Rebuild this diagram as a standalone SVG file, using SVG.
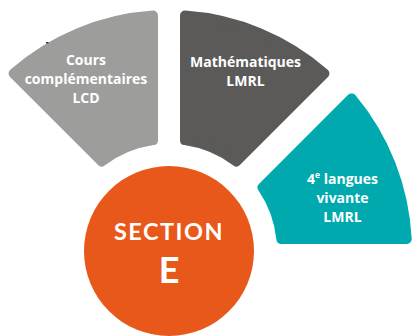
<svg xmlns="http://www.w3.org/2000/svg" width="414" height="336" viewBox="0 0 414 336">
<style>
.seg{stroke-width:10;stroke-linejoin:round}
.lbl{font-family:Lato,"Open Sans","DejaVu Sans",sans-serif;font-weight:700;fill:#ffffff;text-anchor:middle}
.t15{font-family:"Open Sans",Lato,"DejaVu Sans",sans-serif;font-size:14px}
</style>
<rect width="414" height="336" fill="#ffffff"/>
<g id="node-cours">
<path class="seg" fill="#9d9d9c" stroke="#9d9d9c" d="M153 15.54 A236 236 0 0 0 13.55 73.45 L101.63 161.53 A112 112 0 0 1 153 140.15 Z"/>
<rect x="46" y="42" width="2.5" height="1.5" fill="#333333"/>
<text class="lbl t15" x="86" y="65">Cours</text>
<text class="lbl t15" x="86" y="84">complémentaires</text>
<text class="lbl t15" x="86" y="103">LCD</text>
</g>
<g id="node-math">
<path class="seg" fill="#5b5a59" stroke="#5b5a59" d="M185 15.54 A236 236 0 0 1 324.45 73.45 L236.37 161.53 A112 112 0 0 0 185 140.15 Z"/>
<text class="lbl t15" x="245.5" y="67">Mathématiques</text>
<text class="lbl t15" x="245.5" y="86">LMRL</text>
</g>
<g id="node-langues">
<path class="seg" fill="#00a9ad" stroke="#00a9ad" d="M262.51 187.56 L351.66 98.41 A238 238 0 0 1 406.7 239 L281.36 239 A113 113 0 0 0 262.51 187.56 Z"/>
<text class="lbl t15" x="342.5" y="184">4<tspan font-size="8.5" dy="-6">e</tspan><tspan dy="6"> langues</tspan></text>
<text class="lbl t15" x="342.5" y="203">vivante</text>
<text class="lbl t15" x="342.5" y="222">LMRL</text>
</g>
<g id="node-section">
<circle cx="169" cy="251" r="85" fill="#e8581a"/>
<text class="lbl" x="169" y="240" font-size="23.5" letter-spacing="1.5">SECTION</text>
<text class="lbl" x="169" y="283" font-size="36">E</text>
</g>
<g id="connectors"></g>
</svg>
